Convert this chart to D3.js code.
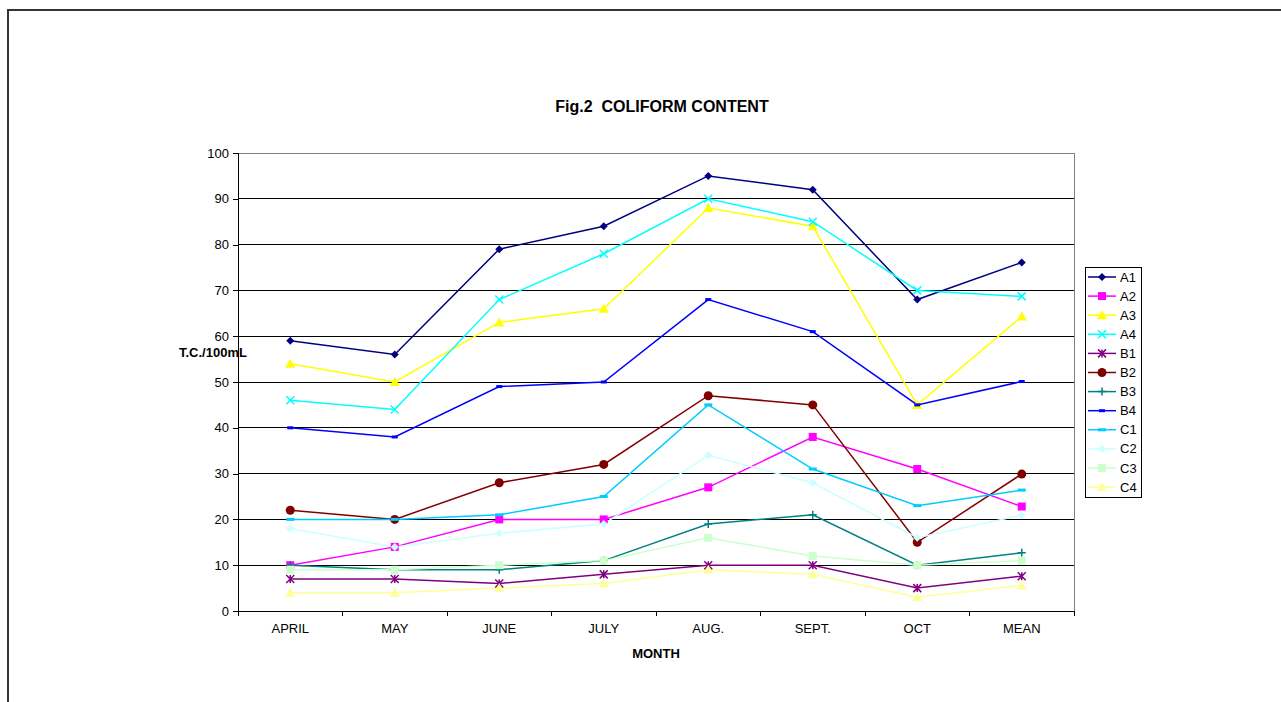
<!DOCTYPE html>
<html>
<head>
<meta charset="utf-8">
<script src="https://cdn.jsdelivr.net/npm/d3@7"></script>
<style>
  body { margin: 0; background: #fff; }
  text { font-family: "Liberation Sans", Arial, sans-serif; }
</style>
</head>
<body>
<div id="chart"></div>
<script>
// Data
var months = ["APRIL", "MAY", "JUNE", "JULY", "AUG.", "SEPT.", "OCT", "MEAN"];
var seriesNames = ["A1", "A2", "A3", "A4", "B1", "B2", "B3", "B4", "C1", "C2", "C3", "C4"];
var A1 = [59, 56, 79, 84, 95, 92, 68, 76.1];
var A2 = [10, 14, 20, 20, 27, 38, 31, 22.8];
var A3 = [54, 50, 63, 66, 88, 84, 45, 64.3];
var A4 = [46, 44, 68, 78, 90, 85, 70, 68.7];
var B1 = [7, 7, 6, 8, 10, 10, 5, 7.6];
var B2 = [22, 20, 28, 32, 47, 45, 15, 29.9];
var B3 = [10, 9, 9, 11, 19, 21, 10, 12.7];
var B4 = [40, 38, 49, 50, 68, 61, 45, 50.1];
var C1 = [20, 20, 21, 25, 45, 31, 23, 26.4];
var C2 = [18, 14, 17, 19, 34, 28, 16, 20.9];
var C3 = [9, 9, 10, 11, 16, 12, 10, 11];
var C4 = [4, 4, 5, 6, 9, 8, 3, 5.6];
var yTicks = [0, 10, 20, 30, 40, 50, 60, 70, 80, 90, 100];

var colors = ["#000080", "#ff00ff", "#ffff00", "#00ffff", "#800080", "#800000",
              "#008080", "#0000ff", "#00ccff", "#ccffff", "#ccffcc", "#ffff99"];
var markers = ["diamond", "square", "triangle", "x", "star", "circle",
               "plus", "dash", "dash2", "diamond", "square", "triangle"];

var allSeries = [A1, A2, A3, A4, B1, B2, B3, B4, C1, C2, C3, C4].map(function(vals, i) {
  return { name: seriesNames[i], values: vals, color: colors[i], marker: markers[i] };
});

var svgWidth = 1281;
var svgHeight = 702;

var margin = { top: 153, right: 207, bottom: 91, left: 238 };
var width = svgWidth - margin.left - margin.right;
var height = svgHeight - margin.top - margin.bottom;

var svg = d3.select("#chart")
  .append("svg")
  .attr("width", svgWidth)
  .attr("height", svgHeight);

// page frame
svg.append("path")
  .attr("d", "M8,702 V10 H1281")
  .attr("fill", "none")
  .attr("stroke", "#333")
  .attr("stroke-width", 2);

var plotGroup = svg.append("g")
  .attr("transform", `translate(${margin.left}, ${margin.top})`);

var xScale = d3.scaleBand()
  .domain(months)
  .range([0, width]);

var yScale = d3.scaleLinear()
  .domain([0, 100])
  .range([height, 0]);

// gridlines
plotGroup.selectAll(".grid")
  .data(yTicks.filter(d => d > 0))
  .enter()
  .append("line")
  .attr("x1", 0)
  .attr("x2", width)
  .attr("y1", d => yScale(d))
  .attr("y2", d => yScale(d))
  .attr("stroke", d => d === 100 ? "#808080" : "#000")
  .attr("stroke-width", 1)
  .attr("shape-rendering", "crispEdges");

// right border of plot area
plotGroup.append("line")
  .attr("x1", width).attr("x2", width)
  .attr("y1", 0).attr("y2", height)
  .attr("stroke", "#808080")
  .attr("shape-rendering", "crispEdges");

// axes
var leftAxis = d3.axisLeft(yScale).tickValues(yTicks).tickSize(5).tickPadding(4);
var bottomAxis = d3.axisBottom(xScale).tickSize(0).tickPadding(13);

var yAxisG = plotGroup.append("g").call(leftAxis);
var xAxisG = plotGroup.append("g")
  .attr("transform", `translate(0, ${height})`)
  .call(bottomAxis);

[yAxisG, xAxisG].forEach(function(g) {
  g.select(".domain").attr("stroke", "#000").attr("shape-rendering", "crispEdges");
  g.selectAll(".tick line").attr("stroke", "#000").attr("shape-rendering", "crispEdges");
  g.selectAll("text")
    .attr("fill", "#000")
    .style("font-size", "13px")
    .style("font-family", "'Liberation Sans', Arial, sans-serif");
});

// category boundary ticks on x axis
xAxisG.selectAll(".bound")
  .data(d3.range(months.length + 1))
  .enter()
  .append("line")
  .attr("x1", i => i * xScale.bandwidth())
  .attr("x2", i => i * xScale.bandwidth())
  .attr("y1", 0)
  .attr("y2", 5)
  .attr("stroke", "#000")
  .attr("shape-rendering", "crispEdges");

// lines
var line = d3.line()
  .x((d, i) => xScale(months[i]) + xScale.bandwidth() / 2)
  .y(d => yScale(d));

plotGroup.selectAll(".series")
  .data(allSeries)
  .enter()
  .append("path")
  .attr("d", d => line(d.values))
  .attr("fill", "none")
  .attr("stroke", d => d.color)
  .attr("stroke-width", 1.5);

// marker drawer
function drawMarker(g, type, color, cx, cy) {
  var s = 4;
  if (type === "diamond") {
    g.append("path").attr("d", `M${cx},${cy - s} L${cx + s},${cy} L${cx},${cy + s} L${cx - s},${cy} Z`)
      .attr("fill", color);
  } else if (type === "square") {
    g.append("rect").attr("x", cx - s).attr("y", cy - s).attr("width", 2 * s).attr("height", 2 * s)
      .attr("fill", color);
  } else if (type === "triangle") {
    g.append("path").attr("d", `M${cx},${cy - s - 1} L${cx + s + 1},${cy + s} L${cx - s - 1},${cy + s} Z`)
      .attr("fill", color);
  } else if (type === "circle") {
    g.append("circle").attr("cx", cx).attr("cy", cy).attr("r", s + 0.5).attr("fill", color);
  } else if (type === "x") {
    g.append("path").attr("d", `M${cx - s},${cy - s} L${cx + s},${cy + s} M${cx - s},${cy + s} L${cx + s},${cy - s}`)
      .attr("stroke", color).attr("stroke-width", 1.5);
  } else if (type === "star") {
    g.append("path").attr("d", `M${cx - s},${cy - s} L${cx + s},${cy + s} M${cx - s},${cy + s} L${cx + s},${cy - s} M${cx},${cy - s} L${cx},${cy + s}`)
      .attr("stroke", color).attr("stroke-width", 1.5);
  } else if (type === "plus") {
    g.append("path").attr("d", `M${cx - s},${cy} L${cx + s},${cy} M${cx},${cy - s} L${cx},${cy + s}`)
      .attr("stroke", color).attr("stroke-width", 1.5);
  } else if (type === "dash") {
    g.append("rect").attr("x", cx - 3).attr("y", cy - 1.5).attr("width", 6).attr("height", 3)
      .attr("fill", color);
  } else if (type === "dash2") {
    g.append("rect").attr("x", cx - 4).attr("y", cy - 1.5).attr("width", 8).attr("height", 3)
      .attr("fill", color);
  }
}

allSeries.forEach(function(s) {
  var g = plotGroup.append("g");
  s.values.forEach(function(v, i) {
    drawMarker(g, s.marker, s.color, xScale(months[i]) + xScale.bandwidth() / 2, yScale(v));
  });
});

// title and axis labels
svg.append("text")
  .attr("x", 662)
  .attr("y", 112)
  .attr("text-anchor", "middle")
  .style("font-size", "16px")
  .style("font-weight", "bold")
  .style("white-space", "pre")
  .text("Fig.2  COLIFORM CONTENT");

svg.append("text")
  .attr("x", 179)
  .attr("y", 357)
  .style("font-size", "13px")
  .style("font-weight", "bold")
  .text("T.C./100mL");

svg.append("text")
  .attr("x", margin.left + width / 2)
  .attr("y", 658)
  .attr("text-anchor", "middle")
  .style("font-size", "13px")
  .style("font-weight", "bold")
  .text("MONTH");

// legend
var legend = svg.append("g").attr("transform", "translate(1085, 267)");
legend.append("rect")
  .attr("width", 56)
  .attr("height", 230)
  .attr("fill", "#fff")
  .attr("stroke", "#000")
  .attr("shape-rendering", "crispEdges");

allSeries.forEach(function(s, i) {
  var yy = 10 + i * 19.1;
  var row = legend.append("g");
  row.append("line")
    .attr("x1", 3).attr("x2", 31)
    .attr("y1", yy).attr("y2", yy)
    .attr("stroke", s.color)
    .attr("stroke-width", 1.5);
  drawMarker(row, s.marker, s.color, 17, yy);
  row.append("text")
    .attr("x", 35)
    .attr("y", yy + 4.5)
    .style("font-size", "13px")
    .text(s.name);
});
</script>
</body>
</html>
